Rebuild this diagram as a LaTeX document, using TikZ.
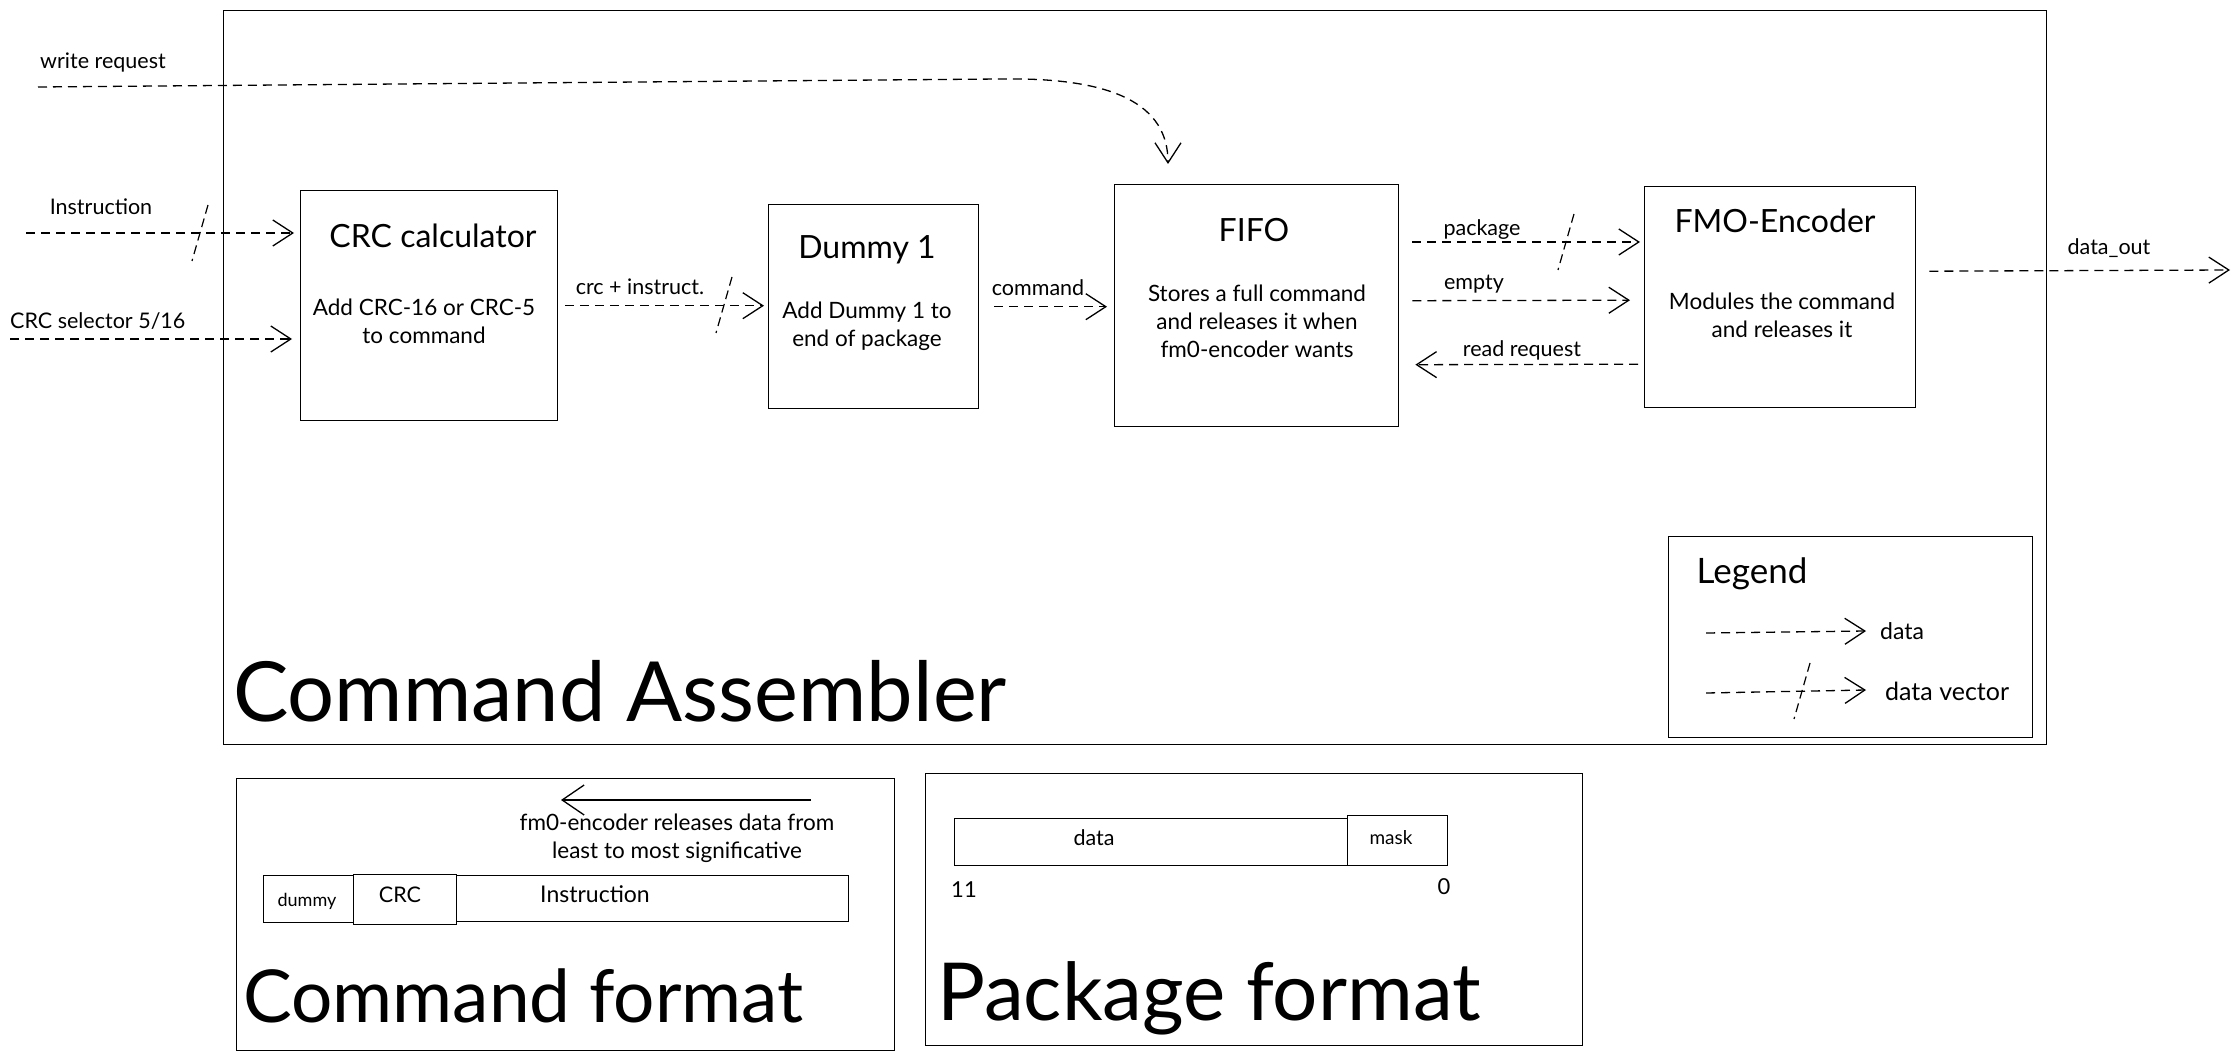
\documentclass[tikz,border=0pt]{standalone}
\usepackage{fontspec}
\setmainfont{Lato}
\usetikzlibrary{arrows.meta,calc}
\begin{document}
\begin{tikzpicture}[x=1pt,y=-1pt,
  box/.style={draw, line width=1.4pt, inner sep=0pt, anchor=north west},
  flow/.style={line width=1.3pt, dash pattern=on 9pt off 6pt,
    -{Straight Barb[length=20pt,width=26pt,line width=1.3pt]}},
  solidarrow/.style={line width=1.3pt,
    -{Straight Barb[length=22pt,width=30pt,line width=1.3pt]}},
  slash/.style={line width=1.2pt, dash pattern=on 9pt off 5pt},
  lbl/.style={font=\fontsize{21.5}{25}\selectfont, inner sep=0pt},
  body/.style={font=\fontsize{22.5}{28}\selectfont, align=center, inner sep=0pt},
  ttl/.style={font=\fontsize{32}{38}\selectfont, inner sep=0pt},
  big/.style={inner sep=0pt, anchor=base west}]
\useasboundingbox[fill=white] (0,0) rectangle (2239,1059);

% ---------- main frame ----------
\node[box, minimum width=1823pt, minimum height=734pt] (main) at (223,10) {};
\node[big, font=\fontsize{83}{90}\selectfont] (mainT) at (233,721) {Command Assembler};

% ---------- blocks ----------
\node[box, minimum width=257pt, minimum height=230pt] (crc) at (300,190) {};
\node[ttl] (crcT) at (433,236) {CRC calculator};
\node[body] (crcB) at (424,321) {Add CRC-16 or CRC-5\\to command};

\node[box, minimum width=210pt, minimum height=204pt] (dum) at (768,204) {};
\node[ttl] (dumT) at (867,250) {Dummy 1};
\node[body] (dumB) at (867,326) {Add Dummy 1 to\\end of package};

\node[box, minimum width=284pt, minimum height=242pt] (fifo) at (1114,184) {};
\node[ttl] (fifoT) at (1254,230) {FIFO};
\node[body] (fifoB) at (1257,321) {Stores a full command\\and releases it when\\fm0-encoder wants};

\node[box, minimum width=271pt, minimum height=221pt] (fmo) at (1644,186) {};
\node[ttl] (fmoT) at (1775,221) {FMO-Encoder};
\node[body] (fmoB) at (1782,315) {Modules the command\\and releases it};

% ---------- connectors ----------
\coordinate (wrS) at (38,87);
\node[lbl, anchor=west] (wrL) at (40,63) {write request};
\draw[flow] (wrS) -- (1000,79) .. controls (1115,77) and (1168,105) .. ($(fifo.north west)+(54,-20)$);

\coordinate (inS) at (26,233);
\node[lbl] (inL) at (101,207) {Instruction};
\draw[flow, shorten >=6pt] (inS) -- (inS -| crc.west);
\coordinate (inV) at (200,233);
\draw[slash] ($(inV)+(8,-28)$) -- ($(inV)+(-8,28)$);

\coordinate (selS) at (10,339);
\node[lbl, anchor=west] (selL) at (10,321) {CRC selector 5/16};
\draw[flow, shorten >=8pt] (selS) -- (selS -| crc.west);

\draw[flow, shorten <=7pt, shorten >=4pt] (crc.east) -- (crc.east -| dum.west);
\node[lbl] (ciL) at (640,287) {crc + instruct.};
\coordinate (ciV) at (724,305);
\draw[slash] ($(ciV)+(8,-28)$) -- ($(ciV)+(-8,28)$);

\draw[flow, shorten <=15pt, shorten >=7pt] (dum.east) -- (dum.east -| fifo.west);
\node[lbl] (cmL) at (1038,288) {command};

\draw[flow] ($(fifo.north east)+(13,58)$) -- ($(fmo.north west)+(-4,56)$);
\node[lbl] (pkL) at (1482,230) {package};
\coordinate (pkV) at (1566,242);
\draw[slash] ($(pkV)+(8,-28)$) -- ($(pkV)+(-8,28)$);

\draw[flow] ($(fifo.east)+(13,-5)$) -- ($(fmo.west)+(-14,3)$);
\node[lbl] (emL) at (1474,284) {empty};

\draw[flow] ($(fmo.west)+(-6,67)$) -- ($(fifo.east)+(16,59)$);
\node[lbl] (rrL) at (1522,350) {read request};

\coordinate (doE) at (2230,270);
\draw[flow] ($(fmo.east)+(13,-26)$) -- (doE);
\node[lbl] (doL) at (2109,248) {data\_out};

% ---------- legend ----------
\node[box, minimum width=364pt, minimum height=201pt] (leg) at (1668,536) {};
\node[inner sep=0pt, font=\fontsize{35}{40}\selectfont] (legT) at (1752,574) {Legend};
\coordinate (lg1S) at (1706,633);
\coordinate (lg1E) at (1866,631);
\draw[flow] (lg1S) -- (lg1E);
\node[lbl, font=\fontsize{23}{27}\selectfont, anchor=west] (lg1L) at (1880,631) {data};
\coordinate (lg2S) at (1706,693);
\coordinate (lg2E) at (1866,690);
\draw[flow] (lg2S) -- (lg2E);
\coordinate (lgV) at (1802,691);
\draw[slash] ($(lgV)+(8,-28)$) -- ($(lgV)+(-8,28)$);
\node[lbl, font=\fontsize{25}{29}\selectfont, anchor=west] (lg2L) at (1885,691) {data vector};

% ---------- command format ----------
\node[box, minimum width=658pt, minimum height=272pt] (cf) at (236,778) {};
\coordinate (cfA) at (811,800);
\coordinate (cfB) at (561,800);
\draw[solidarrow] (cfA) -- (cfB);
\node[body] (cfTxt) at (677,838) {fm0-encoder releases data from\\least to most significative};
\node[box, line width=1.3pt, minimum width=90pt, minimum height=47pt] (cfD) at (263,875) {};
\node[box, line width=1.3pt, minimum width=103pt, minimum height=50pt] (cfC) at (353,874) {};
\node[box, line width=1.3pt, minimum width=392pt, minimum height=46pt] (cfI) at (456,875) {};
\node[lbl, font=\fontsize{18}{21}\selectfont] (cfDL) at (307,901) {dummy};
\node[lbl] (cfCL) at (400,895) {CRC};
\node[lbl, font=\fontsize{23}{27}\selectfont] (cfIL) at (595,894) {Instruction};
\node[big, font=\fontsize{73}{80}\selectfont] (cfT) at (243,1022) {Command format};

% ---------- package format ----------
\node[box, minimum width=657pt, minimum height=272pt] (pf) at (925,773) {};
\node[box, line width=1.3pt, minimum width=393pt, minimum height=47pt] (pfD) at (954,818) {};
\node[box, line width=1.3pt, minimum width=100pt, minimum height=50pt] (pfM) at (1347,815) {};
\node[lbl] (pfDL) at (1094,838) {data};
\node[lbl, font=\fontsize{19}{22}\selectfont] (pfML) at (1391,838) {mask};
\node[lbl, font=\fontsize{22}{26}\selectfont] (pf11) at (964,890) {11};
\node[lbl, font=\fontsize{22}{26}\selectfont] (pf0) at (1444,887) {0};
\node[big, font=\fontsize{80}{86}\selectfont] (pfT) at (937,1020) {Package format};
\end{tikzpicture}
\end{document}
